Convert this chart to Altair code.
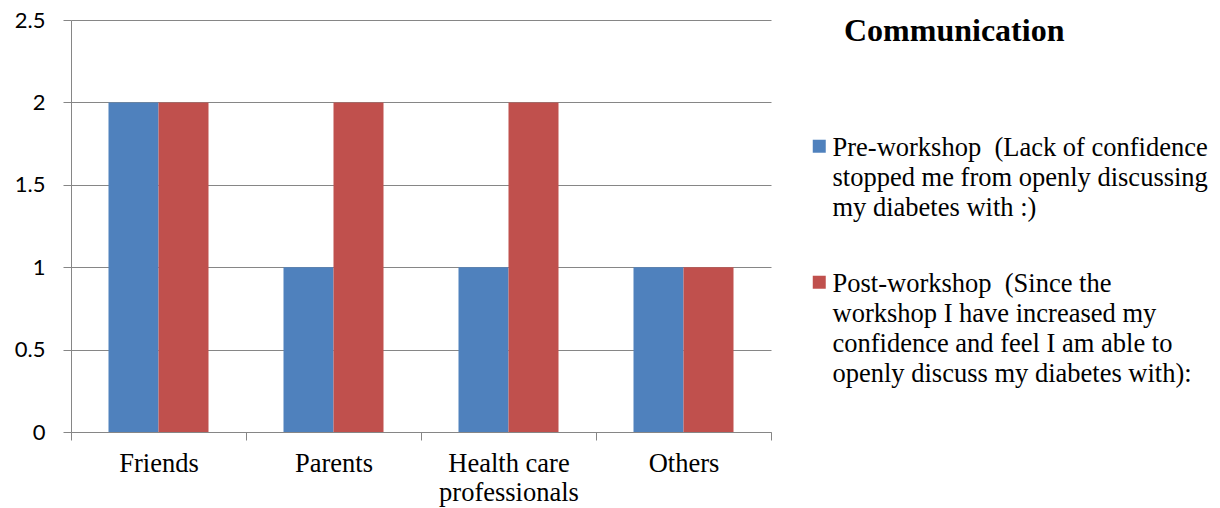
import altair as alt
import pandas as pd

# Groups on the x axis ("\n" marks a line break in the tick label)
categories = ["Friends", "Parents", "Health care\nprofessionals", "Others"]

# The two survey series ("\n" marks a line break in the legend label)
series = [
    "Pre-workshop\u00a0 (Lack of confidence\nstopped me from openly discussing\nmy diabetes with :)",
    "Post-workshop\u00a0 (Since the\nworkshop I have increased my\nconfidence and feel I am able to\nopenly discuss my diabetes with):",
]

pre_values = [2, 1, 1, 1]
post_values = [2, 2, 2, 1]

y_ticks = [0, 0.5, 1, 1.5, 2, 2.5]
colors = ["#4F81BD", "#C0504D"]

rows = []
for cat, pre, post in zip(categories, pre_values, post_values):
    rows.append({"category": cat, "series": series[0], "value": pre})
    rows.append({"category": cat, "series": series[1], "value": post})
df = pd.DataFrame(rows)

GRAY = "#868686"

# Square legend swatch, drawn a little below the label's anchor so it
# lines up with the first line of a multi-line label.
SWATCH = "M-1,0.69L1,0.69L1,2.69L-1,2.69Z"

chart = (
    alt.Chart(df)
    .mark_bar()
    .encode(
        x=alt.X(
            "category:N",
            sort=categories,
            scale=alt.Scale(paddingInner=0, paddingOuter=0),
            axis=alt.Axis(
                title=None,
                labelAngle=0,
                tickBand="extent",
                labelExpr="split(datum.label, '\\n')",
                labelFont="Liberation Serif",
                labelFontSize=26.5,
                labelLineHeight=29,
                labelColor="black",
                labelPadding=10,
                tickSize=8,
                tickColor=GRAY,
                domainColor=GRAY,
                grid=False,
            ),
        ),
        xOffset=alt.XOffset(
            "series:N",
            sort=series,
            scale=alt.Scale(paddingInner=0, paddingOuter=0.75),
        ),
        y=alt.Y(
            "value:Q",
            scale=alt.Scale(domain=[0, 2.5], nice=False),
            axis=alt.Axis(
                title=None,
                values=y_ticks,
                format="~g",
                grid=True,
                gridColor=GRAY,
                gridOpacity=1,
                domainColor=GRAY,
                tickColor=GRAY,
                tickSize=8,
                labelFont="Lato",
                labelFontSize=22,
                labelColor="black",
                labelPadding=18,
            ),
        ),
        color=alt.Color(
            "series:N",
            sort=series,
            scale=alt.Scale(domain=series, range=colors),
            legend=alt.Legend(
                title=None,
                orient="none",
                legendX=735,
                legendY=102,
                symbolType=SWATCH,
                symbolSize=169,
                symbolStrokeWidth=0,
                labelFont="Liberation Serif",
                labelFontSize=26.5,
                labelColor="black",
                labelExpr="split(datum.label, '\\n')",
                labelLimit=600,
                labelOffset=0,
                rowPadding=36,
                labelBaseline="top",
            ),
        ),
    )
    .properties(
        width=700,
        height=412,
        padding={"left": 71, "top": 20, "right": 449, "bottom": 76},
        autosize=alt.AutoSizeParams(type="none"),
        title=alt.Title(
            "Communication",
            font="Liberation Serif",
            fontSize=32,
            fontWeight="bold",
            color="black",
            anchor="start",
            frame="group",
            orient="top",
            dx=773,
            dy=43,
        ),
    )
    .configure(
        view=alt.ViewConfig(strokeWidth=0),
        style={"guide-label": {"lineHeight": 30}},
    )
)

chart.save("out.html", embed_options={"renderer": "svg", "actions": False})
